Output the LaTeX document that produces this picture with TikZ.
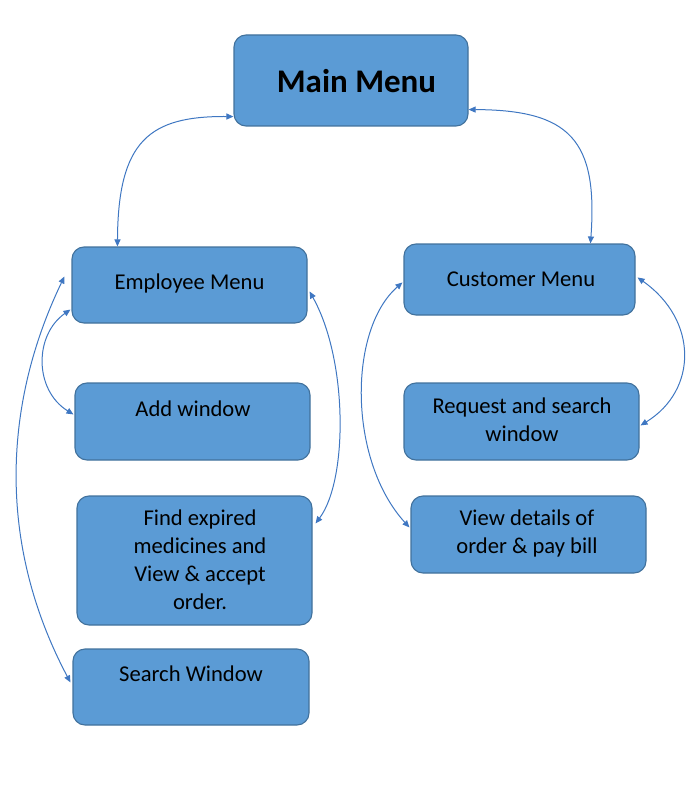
\documentclass[tikz,border=0pt]{standalone}
\usepackage{fontspec}
\setmainfont{Carlito}
\usetikzlibrary{arrows.meta,calc}
\definecolor{boxfill}{HTML}{5B9BD5}
\definecolor{boxline}{HTML}{41719C}
\definecolor{arrowc}{HTML}{3F77C2}
\tikzset{
  box/.style={draw=boxline, fill=boxfill, line width=1.1pt, rounded corners=12pt, inner sep=0pt},
  lbl/.style={inner sep=0pt, align=center, font=\fontsize{22.6}{28}\selectfont, text=black},
  link/.style={draw=arrowc, line width=1pt, {Triangle[length=7pt,width=6pt]}-{Triangle[length=7pt,width=6pt]}}
}
\begin{document}
\begin{tikzpicture}[x=1pt,y=-1pt]
\useasboundingbox (0,0) rectangle (691,805);
% boxes
\node[box, minimum width=234pt, minimum height=91pt] (main) at (351,80.5) {};
\node[box, minimum width=235pt, minimum height=76pt] (emp) at (189.5,285) {};
\node[box, minimum width=231pt, minimum height=71pt] (cust) at (519.5,279.5) {};
\node[box, minimum width=235pt, minimum height=77pt] (add) at (192.5,421.5) {};
\node[box, minimum width=235pt, minimum height=77pt] (req) at (521.5,421.5) {};
\node[box, minimum width=235pt, minimum height=129pt] (find) at (194.5,560.5) {};
\node[box, minimum width=235pt, minimum height=77pt] (view) at (528.5,534.5) {};
\node[box, minimum width=236pt, minimum height=76pt] (search) at (191,687) {};
% texts
\node[lbl, font=\fontsize{33}{38}\selectfont\bfseries, anchor=base] (tmain) at (356.5,93) {Main Menu};
\node[lbl, anchor=base] (temp) at (189.5,289) {Employee Menu};
\node[lbl, anchor=base] (tcust) at (521,286) {Customer Menu};
\node[lbl, anchor=base] (tadd) at (193,416) {Add window};
\node[lbl] (treq) at (522,421.9) {\strut Request and search\\window\strut};
\node[lbl] (tfind) at (200,561.4) {\strut Find expired\\medicines and\\View \& accept\\order.\strut};
\node[lbl] (tview) at (527,533.4) {\strut View details of\\order \& pay bill\strut};
\node[lbl, anchor=base] (tsearch) at (191,681) {Search Window};
% connector end points
\coordinate (e1) at ($(emp.north west)+(46,0)$);
\coordinate (m1) at ($(main.south west)+(0,-10)$);
\coordinate (m2) at ($(main.south east)+(0,-17)$);
\coordinate (c1) at ($(cust.north west)+(187,0)$);
\coordinate (e2) at ($(emp.south west)+(-1,-14)$);
\coordinate (a1) at ($(add.north west)+(-1,32)$);
\coordinate (e3) at ($(emp.north west)+(-7,30)$);
\coordinate (s1) at ($(search.north west)+(-2,34)$);
\coordinate (e4) at ($(emp.north east)+(2,45)$);
\coordinate (f1) at ($(find.north east)+(3,28)$);
\coordinate (c2) at ($(cust.north west)+(-1,39)$);
\coordinate (v1) at ($(view.north west)+(-1,32)$);
\coordinate (c3) at ($(cust.north east)+(2,34)$);
\coordinate (r1) at ($(req.north east)+(1,43)$);
% connectors
\draw[link] (e1) .. controls (118,140) and (150,116) .. (m1);
\draw[link] (m2) .. controls (570,110) and (598,140) .. (c1);
\draw[link] (e2) .. controls (34,335) and (34,390) .. (a1);
\draw[link] (e3) .. controls (5,400) and (-5,540) .. (s1);
\draw[link] (e4) .. controls (348,360) and (348,480) .. (f1);
\draw[link] (c2) .. controls (348,330) and (348,460) .. (v1);
\draw[link] (c3) .. controls (698,320) and (698,390) .. (r1);
\end{tikzpicture}
\end{document}
